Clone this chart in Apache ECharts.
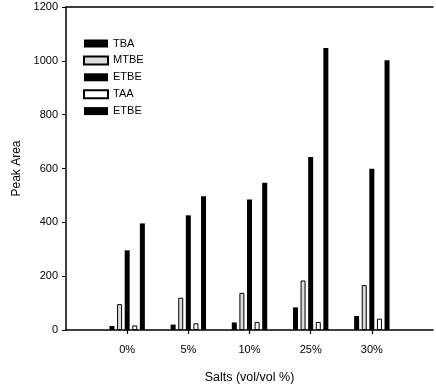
<!DOCTYPE html>
<html>
<head>
<meta charset="utf-8">
<script src="https://cdn.jsdelivr.net/npm/echarts@6/dist/echarts.min.js"></script>
<style>html,body{margin:0;padding:0;background:#fff}#c{width:436px;height:389px}</style>
</head>
<body>
<div id="c"></div>
<script>
var categories = ['', '0%', '5%', '10%', '25%', '30%', ''];
var seriesNames = ['TBA', 'MTBE', 'ETBE', 'TAA', 'ETBE '];
var tba  = [null, 15, 20, 28, 84, 52, null];
var mtbe = [null, 96, 120, 138, 184, 167, null];
var etbe = [null, 296, 426, 485, 643, 599, null];
var taa  = [null, 17, 25, 30, 30, 42, null];
var etbe2 = [null, 396, 497, 547, 1048, 1002, null];
var yTicks = [0, 200, 400, 600, 800, 1000, 1200];

var font = 'Liberation Sans, Arial, sans-serif';
var styles = [
  {color: '#000', borderColor: '#000', borderWidth: 0},
  {color: '#dcdcdc', borderColor: '#000', borderWidth: 1},
  {color: '#000', borderColor: '#000', borderWidth: 0},
  {color: '#fff', borderColor: '#000', borderWidth: 1},
  {color: '#000', borderColor: '#000', borderWidth: 0}
];
var allData = [tba, mtbe, etbe, taa, etbe2];

var chart = echarts.init(document.getElementById('c'), null, {renderer: 'canvas'});
chart.setOption({
  animation: false,
  backgroundColor: '#fff',
  grid: {left: 66, right: -6, top: 7, bottom: 58, containLabel: false},
  legend: {
    orient: 'vertical', left: 78, top: 33, icon: 'rect',
    itemWidth: 24, itemHeight: 8, itemGap: 5.9,
    data: seriesNames,
    textStyle: {fontFamily: font, fontSize: 11, color: '#000'}
  },
  xAxis: [{
    type: 'category', data: categories, boundaryGap: false,
    axisLine: {lineStyle: {color: '#000', width: 1.5}},
    axisTick: {show: true, length: 4, lineStyle: {color: '#000', width: 1.2},
      interval: function (i, v) { return v !== ''; }},
    axisLabel: {fontFamily: font, fontSize: 11, color: '#000', margin: 14,
      interval: 0},
    name: 'Salts (vol/vol %)', nameLocation: 'middle', nameGap: 41,
    nameTextStyle: {fontFamily: font, fontSize: 12.5, color: '#000'},
    splitLine: {show: false}
  }, {
    type: 'category', data: categories, boundaryGap: false, position: 'top',
    axisLine: {lineStyle: {color: '#000', width: 1.5}},
    axisTick: {show: false}, axisLabel: {show: false}, splitLine: {show: false}
  }],
  yAxis: {
    type: 'value', min: yTicks[0], max: yTicks[yTicks.length - 1], interval: 200,
    axisLine: {show: true, lineStyle: {color: '#000', width: 1.5}},
    axisTick: {show: true, length: 4, lineStyle: {color: '#000'}},
    axisLabel: {fontFamily: font, fontSize: 11, color: '#000', margin: 8,
      formatter: function (v) { return String(v); }},
    splitLine: {show: false},
    name: 'Peak Area', nameLocation: 'middle', nameGap: 40,
    nameTextStyle: {fontFamily: font, fontSize: 12, color: '#000'}
  },
  series: seriesNames.map(function (n, i) {
    return {
      name: n, type: 'bar', data: allData[i], barWidth: 5, barGap: '52%',
      itemStyle: styles[i]
    };
  })
});
</script>
</body>
</html>
